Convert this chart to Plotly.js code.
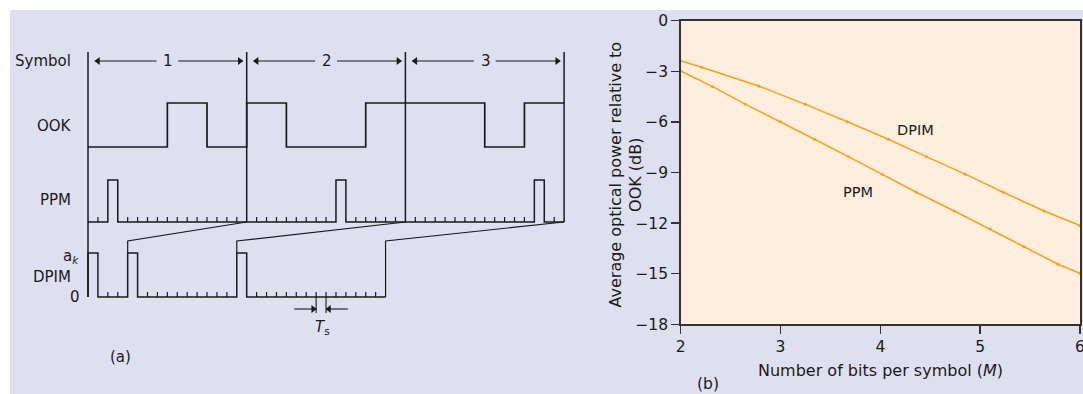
<!DOCTYPE html>
<html><head><meta charset="utf-8">
<script src="https://cdn.plot.ly/plotly-3.0.1.min.js"></script>
<style>html,body{margin:0;padding:0;background:#fff;}#chart{width:1083px;height:394px;}</style>
</head><body><div id="chart"></div>
<script>
// ---------- Panel (a): timing diagram data ----------
const symbolValues = [2, 9, 13];          // decimal value of each 4-bit symbol
const bitsPerSymbol = 4;
const symbolLabels = ['1', '2', '3'];
const rowLabels = ['Symbol', 'OOK', 'PPM', 'DPIM'];
const guardSlots = 1;                     // DPIM guard slot

// ---------- Panel (b): average optical power data ----------
const ppmM   = [2, 2.32, 2.65, 3.0, 3.34, 3.68, 4.02, 4.36, 4.74, 5.10, 5.44, 5.78, 6];
const ppmDb  = [-2.98, -3.91, -4.96, -5.99, -7.03, -8.06, -9.10, -10.17, -11.28, -12.35, -13.40, -14.44, -14.98];
const dpimM  = [2, 2.21, 2.78, 3.25, 3.67, 4.08, 4.46, 4.85, 5.23, 5.64, 6];
const dpimDb = [-2.37, -2.76, -3.87, -4.96, -5.99, -7.03, -8.06, -9.10, -10.17, -11.28, -12.15];
const xTickVals = [2, 3, 4, 5, 6];
const yTickVals = [0, -3, -6, -9, -12, -15, -18];

// ---------- geometry (layout only) ----------
const W = 1083, H = 394;
const FONT = '"DejaVu Sans", "Open Sans", sans-serif';
const INK = '#1a1a1a';
const ORANGE = '#f8a21c';
const L = Math.pow(2, bitsPerSymbol);      // slots per symbol
const nSym = symbolValues.length;
const bitSlots = L / bitsPerSymbol;
const X0 = 88, SLOT = 158.7 / 16;           // px origin and px per slot of panel (a)
const R = {arrow: 61, symTop: 52, ookHigh: 103, ookLow: 147, ppmTop: 180, ppmBase: 222,
           dpimTop: 253, dpimBase: 297, conn: 241, tick: 5, tsArrow: 309, tsBottom: 313, tsLabel: 327};

const lineA = (x, y, w) => ({type: 'scatter', mode: 'lines', x, y, xaxis: 'x2', yaxis: 'y2',
  line: {color: INK, width: w || 1.5, shape: 'linear'}, hoverinfo: 'skip', showlegend: false, connectgaps: false});

// OOK waveform
const ookX = [], ookY = [];
let prev = null;
symbolValues.forEach((v, k) => {
  for (let b = 0; b < bitsPerSymbol; b++) {
    const bit = (v >> (bitsPerSymbol - 1 - b)) & 1;
    const xs = (k * bitsPerSymbol + b) * bitSlots;
    const y = bit ? R.ookHigh : R.ookLow;
    if (prev !== null && prev !== y) { ookX.push(xs); ookY.push(prev); }
    ookX.push(xs); ookY.push(y); prev = y;
  }
});
ookX.push(nSym * L); ookY.push(prev);

// PPM waveform
const ppmX = [0], ppmY = [R.ppmBase];
const ppmEdges = new Set();
symbolValues.forEach((v, k) => {
  const s = k * L + v;
  ppmX.push(s, s, s + 1, s + 1); ppmY.push(R.ppmBase, R.ppmTop, R.ppmTop, R.ppmBase);
  ppmEdges.add(s); ppmEdges.add(s + 1);
});
ppmX.push(nSym * L); ppmY.push(R.ppmBase);
const ppmTX = [], ppmTY = [];
for (let s = 1; s < nSym * L; s++) {
  if (s % L === 0 || ppmEdges.has(s)) continue;
  ppmTX.push(s, s, null); ppmTY.push(R.ppmBase, R.ppmBase - R.tick, null);
}

// DPIM waveform
const pulses = [];
let pos = 0;
symbolValues.forEach(v => { pulses.push(pos); pos += 1 + guardSlots + v; });
const dpimEnd = pos;
const dX = [], dY = [];
const dEdges = new Set();
pulses.forEach(p => {
  dX.push(p, p, p + 1, p + 1); dY.push(R.dpimBase, R.dpimTop, R.dpimTop, R.dpimBase);
  dEdges.add(p); dEdges.add(p + 1);
});
dX.push(dpimEnd); dY.push(R.dpimBase);
const dTX = [], dTY = [];
for (let s = 1; s < dpimEnd; s++) {
  if (dEdges.has(s)) continue;
  dTX.push(s, s, null); dTY.push(R.dpimBase, R.dpimBase - R.tick, null);
}
// connectors from DPIM symbol end to PPM symbol end
const cX = [], cY = [];
symbolValues.forEach((v, k) => {
  const start = k + 1 < nSym ? pulses[k + 1] : dpimEnd;
  const y0 = k + 1 < nSym ? R.dpimTop : R.dpimBase;
  cX.push(start, start, (k + 1) * L, null); cY.push(y0, R.conn, R.ppmBase, null);
});

// symbol boundaries
const bX = [], bY = [];
for (let k = 0; k <= nSym; k++) {
  bX.push(k * L, k * L, null); bY.push(R.symTop, k === 0 ? R.dpimBase : R.ppmBase, null);
}

// symbol arrows
const aX = [], aY = [], hLX = [], hLY = [], hRX = [], hRY = [];
symbolValues.forEach((v, k) => {
  const c = k * L + L / 2;
  aX.push(k * L + 0.7, c - 1.1, null, c + 1.1, (k + 1) * L - 0.4, null);
  aY.push(R.arrow, R.arrow, null, R.arrow, R.arrow, null);
  hLX.push(k * L + 0.7 + 0.3); hLY.push(R.arrow);
  hRX.push((k + 1) * L - 0.4 - 0.3); hRY.push(R.arrow);
});
// Ts marker
const tsSlot = 23;
const tX = [tsSlot, tsSlot, null, tsSlot + 1, tsSlot + 1, null, tsSlot - 2.2, tsSlot, null, tsSlot + 3.2, tsSlot + 1, null];
const tY = [R.dpimBase, R.tsBottom, null, R.dpimBase, R.tsBottom, null, R.tsArrow, R.tsArrow, null, R.tsArrow, R.tsArrow, null];
hRX.push(tsSlot - 0.3); hRY.push(R.tsArrow);
hLX.push(tsSlot + 1 + 0.3); hLY.push(R.tsArrow);

const traces = [
  lineA(bX, bY, 1.5),
  lineA(ookX, ookY, 1.7),
  lineA(ppmX, ppmY, 1.5),
  lineA(ppmTX, ppmTY, 1.2),
  lineA(dX, dY, 1.5),
  lineA(dTX, dTY, 1.2),
  lineA(cX, cY, 1.2),
  lineA(aX, aY, 1.1),
  lineA(tX, tY, 1.1),
  {type: 'scatter', mode: 'markers', x: hLX, y: hLY, xaxis: 'x2', yaxis: 'y2', hoverinfo: 'skip', showlegend: false,
   marker: {symbol: 'triangle-left', size: 7, color: INK, line: {width: 0}}},
  {type: 'scatter', mode: 'markers', x: hRX, y: hRY, xaxis: 'x2', yaxis: 'y2', hoverinfo: 'skip', showlegend: false,
   marker: {symbol: 'triangle-right', size: 7, color: INK, line: {width: 0}}},
  // panel (b)
  {type: 'scatter', mode: 'lines+markers', name: 'DPIM', x: dpimM, y: dpimDb, xaxis: 'x', yaxis: 'y',
   line: {color: ORANGE, width: 1.5}, marker: {color: ORANGE, size: 3}, showlegend: false, cliponaxis: true},
  {type: 'scatter', mode: 'lines+markers', name: 'PPM', x: ppmM, y: ppmDb, xaxis: 'x', yaxis: 'y',
   line: {color: ORANGE, width: 1.5}, marker: {color: ORANGE, size: 3}, showlegend: false, cliponaxis: true}
];

const sx = px => (px - X0) / SLOT;   // px -> slot units helper for label placement
const annA = (text, x, y, xanchor, extra) => Object.assign({text, x, y, xref: 'x2', yref: 'y2', xanchor: xanchor || 'center',
  yanchor: 'middle', showarrow: false, font: {family: FONT, size: 15, color: INK}}, extra || {});
const annP = (text, px, py, extra) => Object.assign({text, x: px / W, y: 1 - py / H, xref: 'paper', yref: 'paper',
  xanchor: 'center', yanchor: 'middle', showarrow: false, font: {family: FONT, size: 15.5, color: INK}}, extra || {});

const annotations = [
  annA(rowLabels[0], sx(73), R.arrow, 'right'),
  annA(rowLabels[1], sx(74), 126, 'right'),
  annA(rowLabels[2], sx(73), 200, 'right'),
  annA('a<sub><i>k</i></sub>', sx(81), 256, 'right'),
  annA(rowLabels[3], sx(73), 277, 'right'),
  annA('0', sx(82), R.dpimBase, 'right'),
  annA('(a)', sx(120), 357, 'center'),
  annA('<i>T</i><sub>s</sub>', tsSlot + 0.6, R.tsLabel, 'center'),
  ...symbolLabels.map((t, k) => annA(t, k * L + L / 2 + 0.1, R.arrow, 'center')),
  // panel (b)
  {text: 'DPIM', x: 4.354, y: -6.48, xref: 'x', yref: 'y', xanchor: 'center', yanchor: 'middle', showarrow: false,
   font: {family: FONT, size: 14.5, color: INK}},
  {text: 'PPM', x: 3.778, y: -10.15, xref: 'x', yref: 'y', xanchor: 'center', yanchor: 'middle', showarrow: false,
   font: {family: FONT, size: 14.5, color: INK}},
  annP('Average optical power relative to<br>OOK (dB)', 625.5, 175, {textangle: -90, font: {family: FONT, size: 16, color: INK}}),
  annP('Number of bits per symbol (<i>M</i>)', 880, 370, {font: {family: FONT, size: 16, color: INK}}),
  annP('(b)', 708, 384)
];

const axisB = {
  showline: true, linecolor: '#333', linewidth: 1.5, mirror: true, ticks: 'outside', ticklen: 8,
  tickwidth: 1.5, tickcolor: '#333', showgrid: false, zeroline: false, fixedrange: true,
  tickfont: {family: FONT, size: 15.5, color: INK}, ticklabeloverflow: 'allow'
};

const layout = {
  width: W, height: H, margin: {l: 0, r: 0, t: 0, b: 0},
  paper_bgcolor: '#ffffff', plot_bgcolor: 'rgba(0,0,0,0)', showlegend: false,
  font: {family: FONT, color: INK},
  xaxis: Object.assign({}, axisB, {domain: [680.7 / W, 1080 / W], range: [2, 6], tickvals: xTickVals,
    ticktext: xTickVals.map(String), anchor: 'y'}),
  yaxis: Object.assign({}, axisB, {domain: [1 - 324.3 / H, 1 - 20.7 / H], range: [-18, 0], tickvals: yTickVals,
    anchor: 'x'}),
  xaxis2: {domain: [0, 600 / W], range: [sx(0), sx(600)], visible: false, fixedrange: true, anchor: 'y2'},
  yaxis2: {domain: [0, 1], range: [H, 0], visible: false, fixedrange: true, anchor: 'x2'},
  shapes: [
    {type: 'rect', xref: 'paper', yref: 'paper', x0: 10 / W, x1: 1, y0: 0, y1: 1 - 10 / H,
     fillcolor: '#dfe0ef', line: {width: 0}, layer: 'below'},
    {type: 'rect', xref: 'x', yref: 'y', x0: 2, x1: 6, y0: -18, y1: 0,
     fillcolor: '#fdeedd', line: {width: 0}, layer: 'below'}
  ],
  annotations
};

Plotly.newPlot('chart', traces, layout, {displayModeBar: false, staticPlot: true});
</script>
</body></html>
